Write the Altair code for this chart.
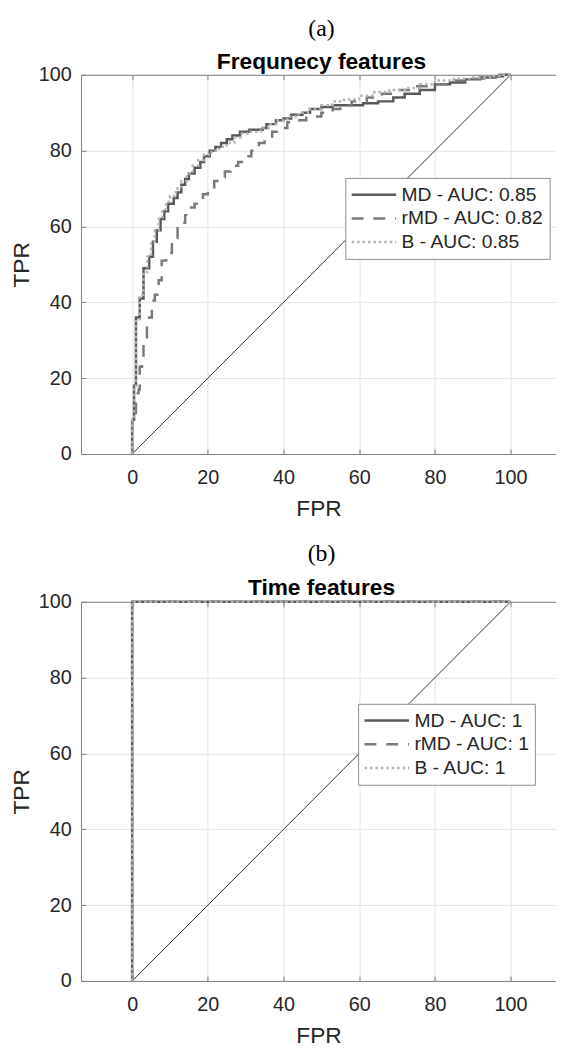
import altair as alt
import pandas as pd

NBSP = "\u00a0"

# ---- legend labels / styles ----
LABELS_FREQ = ["MD - AUC: 0.85", "rMD - AUC: 0.82", "B - AUC: 0.85"]
LABELS_TIME = ["MD - AUC: 1", "rMD - AUC: 1", "B - AUC: 1"]
LINE_COLORS = ["#595959", "#7a7a7a", "#b4b4b4"]
LINE_DASHES = [[1, 0], [12, 10], [2.5, 3]]

# ---- axis ticks ----
TICKS = [0, 20, 40, 60, 80, 100]
X_LO, X_HI = -13.5, 112.0

# ---- (a) Frequency features : ROC points (FPR %, TPR %) ----
MD_FREQ_FPR = [0, 0, 0.5, 1, 2, 3, 4.5, 5.5, 6.5, 7.5, 8.5, 9.5, 11, 12, 13, 14, 15, 16.5,
               18, 19, 20.5, 22, 23.5, 25, 26.5, 28.5, 31, 34.5, 35.5, 38, 40, 42, 45, 47,
               50, 53, 57, 61, 65, 69, 72, 76, 80, 84, 88, 92, 96, 98, 100]
MD_FREQ_TPR = [0, 9, 18, 36, 41, 49, 52, 56, 59, 62, 64, 66, 67.5, 69, 71, 72.5, 74, 75.5,
               77, 78.5, 80, 81, 82, 83, 84, 85, 85.5, 86, 87, 88, 88.5, 89.5, 90, 91,
               91.5, 92, 92, 92.5, 93, 94, 95, 96, 97.5, 98, 98.8, 99.3, 99.6, 100, 100]

RMD_FREQ_FPR = [0, 0, 0.5, 1, 1.7, 2, 2.6, 3, 3.5, 3.9, 4.5, 5.2, 6, 7, 7.8, 9, 10, 10.5,
                11.3, 12, 13, 14, 15.2, 16.5, 17.5, 18.7, 20, 21.7, 23, 24.5, 26, 28, 30,
                31.5, 33.5, 35, 37, 39, 41, 43, 46, 50, 53, 55, 58, 62, 66, 70, 75, 80, 85,
                90, 94, 97, 100]
RMD_FREQ_TPR = [0, 9, 9.5, 16, 17, 23, 24, 29, 30, 35, 36, 40.5, 42, 45.8, 51, 52, 53, 56,
                57, 60, 61, 63, 65, 66, 67, 68.5, 70, 72, 73, 74.5, 76, 77, 78.5,
                80, 82, 83, 85, 86, 87.5, 88, 89, 90, 91, 92, 93, 94, 95, 96, 97, 97.5, 98.5,
                99, 99.5, 100, 100]

B_FREQ_FPR = [0, 0, 0.5, 1, 2, 3, 4, 5, 6, 7, 8, 9, 10, 11.5, 13, 14.5, 16, 17.5, 19, 21,
              23, 25, 27, 29, 31, 34, 36, 38, 41, 44, 47, 50, 53, 56, 60, 64, 68, 72, 76,
              80, 85, 90, 95, 98, 100]
B_FREQ_TPR = [0, 9, 18, 35, 42, 48, 52, 56, 59, 62, 64.5, 66.5, 68, 70, 72, 74, 76, 77.5, 79, 80,
              81, 82, 83.5, 84.5, 85, 86, 87, 88, 89, 90, 91, 92, 93, 93.5, 94.5, 95.5, 96, 96.5, 97.5,
              98.5, 99, 99.3, 99.7, 100, 100]

# ---- (b) Time features : ROC points ----
MD_TIME_FPR = [0, 0, 100]
MD_TIME_TPR = [0, 100, 100]
RMD_TIME_FPR = [0, 0, 100]
RMD_TIME_TPR = [0, 100, 100]
B_TIME_FPR = [0, 0, 100]
B_TIME_TPR = [0, 100, 100]

# ---- chance diagonal ----
DIAG_FPR = [0, 100]
DIAG_TPR = [0, 100]

TEXT_COLOR = "#262626"
FRAME_COLOR = "#7f7f7f"
GRID_COLOR = "#e4e4e4"
SANS = "Liberation Sans"
SERIF = "Liberation Serif"


def curve_frame(labels, fprs, tprs):
    rows = []
    for lab, xs, ys in zip(labels, fprs, tprs):
        for i, (x, y) in enumerate(zip(xs, ys)):
            rows.append({"series": lab, "fpr": x, "tpr": y, "idx": i})
    return pd.DataFrame(rows)


def panel(df, labels, caption, name, leg_x, leg_y, sub_pad, title_offset):
    sx = alt.Scale(domain=[X_LO, X_HI], nice=False, zero=False)
    sy = alt.Scale(domain=[0, 100], nice=False, zero=False)
    diag_df = pd.DataFrame({"fpr": DIAG_FPR, "tpr": DIAG_TPR})

    legend = alt.Legend(
        title=None, orient="none", legendX=leg_x, legendY=leg_y,
        symbolType="stroke", symbolSize=2025, symbolStrokeWidth=2.5,
        clipHeight=24, rowPadding=0, padding=5, labelOffset=4,
        labelFont=SANS, labelFontSize=19.5, labelColor=TEXT_COLOR, labelLimit=400,
        strokeColor="#8c8c8c", fillColor="white",
    )

    curves = alt.Chart(df).mark_line(
        strokeWidth=2.5, interpolate="step-after", strokeCap="butt"
    ).encode(
        x=alt.X("fpr:Q", scale=sx, axis=alt.Axis(
            orient="bottom", values=TICKS, title="FPR", grid=True, domain=True,
            ticks=False, labelPadding=14, titlePadding=10.5)),
        y=alt.Y("tpr:Q", scale=sy, axis=alt.Axis(
            orient="left", values=TICKS, title="TPR", grid=True, domain=True,
            ticks=False, labelPadding=10, titlePadding=5)),
        color=alt.Color("series:N", scale=alt.Scale(domain=labels, range=LINE_COLORS),
                        legend=legend),
        strokeDash=alt.StrokeDash("series:N", scale=alt.Scale(domain=labels, range=LINE_DASHES),
                                  legend=legend),
        order=alt.Order("idx:Q"),
    )

    diag = alt.Chart(diag_df).mark_line(color="#333333", strokeWidth=1).encode(
        x=alt.X("fpr:Q", scale=sx, axis=None),
        y=alt.Y("tpr:Q", scale=sy, axis=None),
    )

    frame_top = alt.Chart(diag_df).mark_line(opacity=0).encode(
        x=alt.X("fpr:Q", scale=sx, axis=alt.Axis(
            orient="top", domain=True, ticks=False, labels=False, grid=False, title=None)),
        y=alt.Y("tpr:Q", scale=sy, axis=None),
    )

    ticks_tl = alt.Chart(diag_df).mark_line(opacity=0).encode(
        x=alt.X("fpr:Q", scale=sx, axis=alt.Axis(
            orient="top", offset=-5, tickSize=5, values=TICKS, domain=False,
            labels=False, grid=False, title=None)),
        y=alt.Y("tpr:Q", scale=sy, axis=alt.Axis(
            orient="left", offset=-5, tickSize=5, values=TICKS, domain=False,
            labels=False, grid=False, title=None)),
    )

    ticks_b = alt.Chart(diag_df).mark_line(opacity=0).encode(
        x=alt.X("fpr:Q", scale=sx, axis=alt.Axis(
            orient="bottom", offset=-5, tickSize=5, values=TICKS, domain=False,
            labels=False, grid=False, title=None)),
        y=alt.Y("tpr:Q", scale=sy, axis=None),
    )

    return alt.layer(diag, curves, frame_top, ticks_tl, ticks_b).resolve_axis(
        x="independent", y="independent"
    ).properties(
        width=481, height=384,
        title=alt.TitleParams(
            text=caption + NBSP * 4, subtitle=name,
            font=SERIF, fontSize=24, fontWeight="normal", color="black",
            subtitleFont=SANS, subtitleFontSize=23, subtitleFontWeight="bold",
            subtitleColor="black", subtitlePadding=sub_pad, offset=title_offset,
            anchor="middle", dx=3,
        ),
    )


freq_df = curve_frame(LABELS_FREQ,
                      [MD_FREQ_FPR, RMD_FREQ_FPR, B_FREQ_FPR],
                      [MD_FREQ_TPR, RMD_FREQ_TPR, B_FREQ_TPR])
time_df = curve_frame(LABELS_TIME,
                      [MD_TIME_FPR, RMD_TIME_FPR, B_TIME_FPR],
                      [MD_TIME_TPR, RMD_TIME_TPR, B_TIME_TPR])

top = panel(freq_df, LABELS_FREQ, "(a)", "Frequnecy features", 267.6, 104.4, 10.0, -8.7)
bottom = panel(time_df, LABELS_TIME, "(b)", "Time features", 280.6, 103.3, 11.6, -8.3)

chart = alt.vconcat(top, bottom, spacing=20.7).resolve_scale(
    color="independent", strokeDash="independent"
).resolve_legend(
    color="independent", strokeDash="independent"
).properties(
    padding={"left": 2, "top": 2, "right": 0, "bottom": 0}
).configure_view(stroke=None).configure_axis(
    labelFont=SANS, labelFontSize=20, labelColor=TEXT_COLOR,
    titleFont=SANS, titleFontSize=23, titleFontWeight="normal", titleColor=TEXT_COLOR,
    gridColor=GRID_COLOR, gridWidth=1, domainColor=FRAME_COLOR, domainWidth=1,
    tickColor=FRAME_COLOR, tickWidth=1,
)

chart.save("out.html", embed_options={"renderer": "svg", "actions": False})
